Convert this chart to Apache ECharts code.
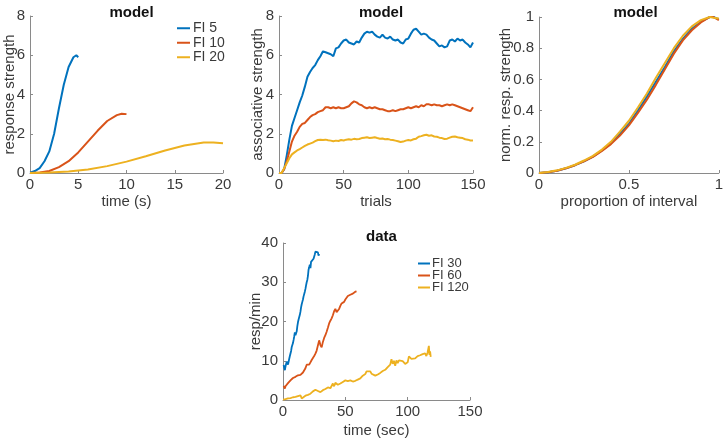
<!DOCTYPE html>
<html><head><meta charset="utf-8">
<script src="https://cdn.jsdelivr.net/npm/echarts@6/dist/echarts.min.js"></script>
<style>html,body{margin:0;padding:0;background:#fff}#c{width:726px;height:441px}</style>
</head><body><div id="c"></div>
<script>
// ---- Panel 1: model, response strength vs time (s)
const fi5T = [0,0.5,1,1.5,2,2.5,3,3.5,4,4.5,4.8,5];
const fi5V = [0.02,0.1,0.25,0.6,1.1,2.0,3.3,4.5,5.4,5.9,6.0,5.9];
const fi10T = [0,1,2,3,4,5,6,7,8,9,9.5,10];
const fi10V = [0,0.02,0.1,0.3,0.6,1.05,1.6,2.15,2.65,2.95,3.02,3.0];
const fi20T = [0,2,4,6,8,10,12,14,16,18,19,20];
const fi20V = [0,0.02,0.08,0.18,0.35,0.58,0.85,1.15,1.4,1.55,1.56,1.52];

// ---- Panel 2: model, associative strength vs trials
const trials = [0,2,4,6,8,10,12,14,16,18,20,22,24,26,28,30,32,34,36,38,40,42,44,46,48,50,52,54,56,58,60,62,64,66,68,70,72,74,76,78,80,82,84,86,88,90,92,94,96,98,100,102,104,106,108,110,112,114,116,118,120,122,124,126,128,130,132,134,136,138,140,142,144,146,148,150];
const assocFI5 = [0,0,0.2,0.9,1.7,2.4,2.8,3.2,3.6,3.95,4.4,4.9,5.15,5.35,5.5,5.75,5.95,6.2,6.15,6.1,6.05,5.95,6.35,6.4,6.6,6.75,6.8,6.65,6.6,6.55,6.7,6.65,6.9,7.1,7.2,7.15,7.2,7.05,6.95,6.9,7.05,6.9,6.85,6.95,6.8,6.75,6.8,6.65,6.6,6.8,6.85,7.1,7.3,7.35,7.2,7.05,7.1,7.05,6.9,6.8,6.75,6.6,6.45,6.5,6.4,6.45,6.75,6.8,6.7,6.85,6.75,6.8,6.65,6.55,6.4,6.65];
const assocFI10 = [0,0,0.2,0.6,1.1,1.6,1.9,2.1,2.35,2.5,2.55,2.7,2.85,2.95,3.0,3.1,3.15,3.2,3.35,3.35,3.3,3.35,3.3,3.35,3.3,3.3,3.35,3.4,3.55,3.65,3.6,3.5,3.45,3.35,3.3,3.35,3.3,3.35,3.3,3.25,3.25,3.2,3.15,3.15,3.2,3.15,3.2,3.25,3.25,3.3,3.35,3.3,3.35,3.4,3.35,3.45,3.4,3.5,3.5,3.45,3.5,3.45,3.45,3.4,3.45,3.5,3.45,3.5,3.45,3.4,3.35,3.3,3.25,3.2,3.15,3.35];
const assocFI20 = [0,0,0.25,0.5,0.75,0.95,1.05,1.15,1.22,1.3,1.38,1.45,1.5,1.55,1.62,1.68,1.7,1.68,1.7,1.67,1.65,1.62,1.65,1.63,1.68,1.66,1.7,1.72,1.7,1.74,1.72,1.73,1.78,1.8,1.82,1.78,1.8,1.82,1.78,1.75,1.76,1.72,1.73,1.7,1.68,1.65,1.62,1.58,1.6,1.65,1.68,1.66,1.72,1.75,1.85,1.88,1.92,1.95,1.9,1.92,1.86,1.85,1.8,1.78,1.73,1.75,1.8,1.85,1.86,1.82,1.8,1.78,1.72,1.7,1.66,1.65];

// ---- Panel 3: model, normalized response strength vs proportion of interval
const prop = [0,0.05,0.1,0.15,0.2,0.25,0.3,0.35,0.4,0.45,0.5,0.55,0.6,0.65,0.7,0.75,0.8,0.85,0.9,0.95,0.97,1.0];
const normFI5 = [0,0.005,0.015,0.03,0.05,0.075,0.105,0.145,0.19,0.25,0.315,0.4,0.49,0.585,0.68,0.78,0.86,0.925,0.97,1.0,1.0,0.985];
const normFI10 = [0,0.005,0.015,0.03,0.05,0.075,0.103,0.142,0.185,0.24,0.305,0.385,0.47,0.565,0.665,0.765,0.85,0.915,0.965,1.0,1.0,0.98];
const normFI20 = [0,0.006,0.017,0.033,0.053,0.08,0.11,0.15,0.2,0.265,0.335,0.42,0.51,0.61,0.705,0.8,0.88,0.94,0.98,1.0,0.995,0.99];

// ---- Panel 4: data, resp/min vs time (sec)
const d30T = [0.5,1,1.5,2,2.5,3,3.5,4,4.5,5,5.5,6,6.5,7,7.5,8,8.5,9,9.5,10,10.5,11,11.5,12,12.5,13,13.5,14,14.5,15,15.5,16,16.5,17,17.5,18,18.5,19,19.5,20,20.5,21,21.5,22,22.5,23,23.5,24,24.5,25,25.5,26,26.5,27,27.5,28,28.5,29];
const d30V = [8.9,8.2,7.6,8.5,9.2,9.8,9.4,9.0,9.3,10.5,11.2,11.0,12.5,13.5,13.4,14.5,15.3,16.2,17.2,16.5,16.1,17.5,18.8,19.8,20.5,21,21.7,22.5,23.6,24.4,25,25.6,26.4,26.8,27.6,28.3,29.2,30,30.6,31.6,33.2,33.8,34.5,33.6,35.2,35.3,35.2,35.5,36.0,36.2,37.1,37.8,38.3,38.0,37.4,37.6,36.8,37.2];
const d60T = [0.5,1,1.5,2,3,4,5,6,7,8,9,10,11,12,13,14,15,16,17,18,19,20,21,22,23,24,25,26,27,28,29,30,31,32,33,34,35,36,37,38,39,40,41,42,43,44,45,46,47,48,49,50,51,52,53,54,55,56,57,58,59];
const d60V = [3.6,3.2,2.9,3.5,4.0,4.3,4.6,5.0,5.4,5.6,5.5,5.9,6.1,6.3,6.6,6.4,6.9,7.0,7.3,8.1,9.0,9.3,9.0,9.6,10.2,10.7,11.2,11.8,12.6,13.0,15.2,14.0,13.4,14.8,15.8,16.5,17.4,18.4,19.5,20.2,20.8,21.6,22.6,23.2,22.4,22.0,23.2,24.0,24.6,24.3,25.0,25.6,26.0,26.5,26.3,26.8,27.0,27.1,27.3,27.6,27.7];
const d120T = [0,2,4,6,8,10,12,14,15,16,18,20,22,24,26,28,30,32,34,36,38,40,41,42,44,46,48,50,51,52,54,56,58,60,62,64,66,67,68,70,71,72,74,76,78,80,82,84,86,87,88,89,90,91,92,93,94,96,98,99,100,101,102,103,104,106,108,110,112,114,115,116,117,117.5,118,118.5];
const d120V = [0.1,0.2,0.4,0.5,0.7,0.8,1.0,1.2,0.4,0.9,1.1,1.3,1.6,2.2,2.6,2.3,2.0,2.5,2.8,3.2,3.0,4.2,3.5,4.4,3.9,4.2,4.6,5.0,5.4,4.8,5.0,4.7,4.9,5.2,5.5,6.2,6.6,7.3,6.8,7.3,6.7,6.9,6.2,6.5,6.9,7.4,7.7,8.4,9.0,10.4,9.2,10.0,8.7,10.1,9.4,10.1,9.6,9.9,9.2,8.7,9.6,11.1,11.0,10.5,10.8,10.6,11.2,11.4,11.7,11.9,11.2,12.1,13.8,11.5,12.4,11.0];

// ---- text
const titles = ['model','model','model','data'];
const xNames = ['time (s)','trials','proportion of interval','time (sec)'];
const yNames = ['response strength','associative strength','norm. resp. strength','resp/min'];
const legendTop = ['FI 5','FI 10','FI 20'];
const legendBottom = ['FI 30','FI 60','FI 120'];

const COLORS = ['#0072BD','#D95319','#EDB120'];
const zip = (a,b) => a.map((v,i)=>[v,b[i]]);
const FONT = '"Liberation Sans", Arial, sans-serif';
const TXT = '#3a3a3a', AX = '#8a8a8a';

const grids = [
  {left:30, top:16, width:193, height:157},
  {left:279, top:16, width:194, height:157},
  {left:539, top:17, width:183, height:156},
  {left:283, top:243, width:187, height:157}
];
const axisSpec = [
  {x:[0,20,5], y:[0,8,2], fs:15, xGap:21, yGap:12.5},
  {x:[0,150,50], y:[0,8,2], fs:15, xGap:21, yGap:13.5},
  {x:[0,1,0.5], y:[0,1,0.2], fs:15, xGap:21, yGap:25.5},
  {x:[0,150,50], y:[0,40,10], fs:15, xGap:23, yGap:19.5}
];
function mkAxis(i, dim){
  const s = axisSpec[i], r = s[dim];
  const isX = dim==='x';
  return {
    type:'value', gridIndex:i, min:r[0], max:r[1], interval:r[2],
    name: isX ? xNames[i] : yNames[i], nameLocation:'middle',
    nameGap: isX ? s.xGap : s.yGap, nameMoveOverlap:false,
    nameTextStyle:{fontFamily:FONT, fontSize:s.fs, color:TXT},
    axisLine:{show:true, lineStyle:{color:AX, width:1}},
    axisTick:{show:true, inside:true, length:3, lineStyle:{color:AX}},
    axisLabel:{fontFamily:FONT, fontSize:s.fs, color:TXT, margin:isX?4:5},
    splitLine:{show:false}
  };
}
const series = [];
function addLine(name, g, x, y, w){
  series.push({name, type:'line', xAxisIndex:g, yAxisIndex:g, data:zip(x,y),
    showSymbol:false, symbol:'none', lineStyle:{width:w}, color:COLORS[series.length%3], clip:false, animation:false});
}
addLine('FI 5',0,fi5T,fi5V,2); addLine('FI 10',0,fi10T,fi10V,2); addLine('FI 20',0,fi20T,fi20V,2);
addLine('a5',1,trials,assocFI5,2); addLine('a10',1,trials,assocFI10,2); addLine('a20',1,trials,assocFI20,2);
addLine('n5',2,prop,normFI5,2); addLine('n10',2,prop,normFI10,2); addLine('n20',2,prop,normFI20,2);
addLine('FI 30',3,d30T,d30V,1.8); addLine('FI 60',3,d60T,d60V,1.8); addLine('FI 120',3,d120T,d120V,1.8);

const centers = grids.map(g=>g.left+g.width/2);
const option = {
  animation:false,
  color:COLORS,
  title: titles.map((t,i)=>({text:t, left:centers[i], textAlign:'center', top: i<3 ? 0 : 224,
    textStyle:{fontFamily:FONT, fontSize:15, fontWeight:'bold', color:'#111'}})),
  legend:[
    {data:legendTop, orient:'vertical', left:177, top:21, icon:'rect', itemWidth:13, itemHeight:2, itemGap:0,
     textStyle:{fontFamily:FONT, fontSize:14, lineHeight:14.5, color:TXT, padding:[0,0,0,-2]}, padding:0, selectedMode:false},
    {data:legendBottom, orient:'vertical', left:418, top:257, icon:'rect', itemWidth:12, itemHeight:2, itemGap:-1,
     textStyle:{fontFamily:FONT, fontSize:13, lineHeight:11.5, color:TXT, padding:[0,0,0,-3]}, padding:0, selectedMode:false}
  ],
  grid: grids,
  xAxis: [0,1,2,3].map(i=>mkAxis(i,'x')),
  yAxis: [0,1,2,3].map(i=>mkAxis(i,'y')),
  series
};
const chart = echarts.init(document.getElementById('c'), null, {renderer:'canvas'});
chart.setOption(option);
</script></body></html>
